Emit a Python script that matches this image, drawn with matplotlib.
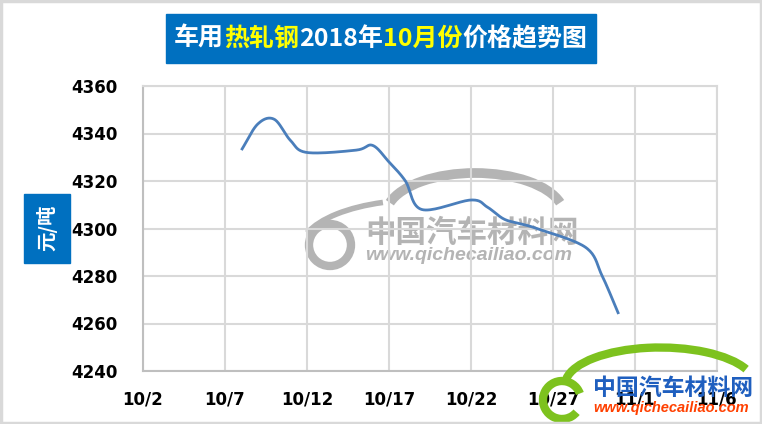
"""
车用热轧钢 2018年10月 价格趋势图 (recreated)
"""

import numpy as np
import matplotlib
matplotlib.use("Agg")
import matplotlib.pyplot as plt
from matplotlib.patches import Rectangle, Arc, Circle

# data: trading days in Oct 2018 (day of month) and price in 元/吨
days = [8, 9, 10, 11, 12, 15, 16, 17, 18, 19, 22, 23, 24, 25, 26, 29, 30, 31]
prices = [4333, 4344, 4346, 4337, 4332, 4333, 4335, 4328, 4320, 4308,
          4312, 4309, 4304, 4302, 4300, 4292, 4280, 4264]

x_ticks = [2, 7, 12, 17, 22, 27, 32, 37]
x_labels = ['10/2', '10/7', '10/12', '10/17', '10/22', '10/27', '11/1', '11/6']
y_ticks = [4240, 4260, 4280, 4300, 4320, 4340, 4360]

title_parts = [("车用", "white"), ("热轧钢", "#FFFF00"), ("2018年", "white"),
               ("10月份", "#FFFF00"), ("价格趋势图", "white")]
y_title = "元/吨"

W, H = 762, 424
CJK = ['Noto Sans CJK SC', 'DejaVu Sans']


def smooth(x, y, n=20):
    """Catmull-Rom spline through the points, like Excel's smoothed line"""
    x = np.asarray(x, float)
    y = np.asarray(y, float)
    px = np.concatenate([[2 * x[0] - x[1]], x, [2 * x[-1] - x[-2]]])
    py = np.concatenate([[2 * y[0] - y[1]], y, [2 * y[-1] - y[-2]]])
    t = np.linspace(0, 1, n, endpoint=False)
    xs, ys = [], []
    for i in range(1, len(px) - 2):
        for p, out in ((px, xs), (py, ys)):
            p0, p1, p2, p3 = p[i - 1], p[i], p[i + 1], p[i + 2]
            out.extend(0.5 * (2 * p1 + (-p0 + p2) * t
                              + (2 * p0 - 5 * p1 + 4 * p2 - p3) * t ** 2
                              + (-p0 + 3 * p1 - 3 * p2 + p3) * t ** 3))
    xs.append(x[-1])
    ys.append(y[-1])
    return np.array(xs), np.array(ys)


def arc(cx, cy, w, h, t1, t2, **kw):
    # matplotlib takes polar angles for ellipse arcs, convert from parametric
    def polar(t):
        t = np.deg2rad(t)
        return np.rad2deg(np.arctan2(h * np.sin(t), w * np.cos(t))) % 360
    return Arc((cx, cy), w, h, theta1=polar(t1), theta2=polar(t2), **kw)


fig = plt.figure(figsize=(W / 100, H / 100), dpi=100)
fig.patch.set_facecolor('white')

# background layer (watermark), in pixel coords
bg = fig.add_axes([0, 0, 1, 1], zorder=0)
bg.set_xlim(0, W)
bg.set_ylim(H, 0)
bg.axis('off')

gray = '#b4b4b4'
bg.add_patch(arc(475, 215, 178, 84, 197, 343, color=gray, lw=7))
bg.add_patch(arc(420, 250, 240, 100, 200, 252, color=gray, lw=4))
bg.add_patch(Circle((330, 245), 21, fill=False, ec=gray, lw=6))
bg.text(365, 233, "中国汽车材料网", color=gray, fontsize=22, fontweight='bold',
        family=CJK, va='center', ha='left')
bg.text(365, 256, "www.qichecailiao.com", color=gray, fontsize=14,
        fontweight='bold', style='italic', family='Liberation Sans',
        va='center', ha='left')

# main chart
ax = fig.add_axes([143 / W, (H - 371) / H, (717 - 143) / W, (371 - 86) / H], zorder=1)
ax.set_facecolor('none')

sx, sy = smooth(days, prices)
ax.plot(sx, sy, color='#4A7EBB', linewidth=2, solid_capstyle='butt')

ax.set_xlim(x_ticks[0], x_ticks[-1])
ax.set_ylim(y_ticks[0], y_ticks[-1])
ax.set_xticks(x_ticks)
ax.set_xticklabels(x_labels)
ax.set_yticks(y_ticks)
ax.grid(True, color='#d9d9d9', linewidth=1.5)
ax.set_axisbelow(True)
for side in ['top', 'right']:
    ax.spines[side].set_color('#d9d9d9')
    ax.spines[side].set_linewidth(1.5)
for side in ['left', 'bottom']:
    ax.spines[side].set_color('#bfbfbf')
    ax.spines[side].set_linewidth(1.5)
ax.tick_params(axis='both', length=0, labelsize=12)
ax.tick_params(axis='y', pad=18)
ax.tick_params(axis='x', pad=14)
for lab in ax.get_xticklabels() + ax.get_yticklabels():
    lab.set_fontweight('bold')

# foreground layer: title box, y label box, logo, frame
fg = fig.add_axes([0, 0, 1, 1], zorder=2)
fg.set_xlim(0, W)
fg.set_ylim(H, 0)
fg.axis('off')
fg.patch.set_alpha(0)

fg.add_patch(Rectangle((166, 14), 430, 49, color='#0070C0'))
txt = fg.text(174, 39, title_parts[0][0], color=title_parts[0][1], fontsize=18,
              fontweight='bold', family=CJK, va='center', ha='left')
for s, c in title_parts[1:]:
    txt = fg.annotate(s, xy=(1, 0), xycoords=txt, va='bottom', ha='left',
                      color=c, fontsize=18, fontweight='bold', family=CJK)

fg.add_patch(Rectangle((24, 194), 46, 69, color='#0070C0'))
fg.text(47, 228, y_title, color='white', fontsize=14, fontweight='bold',
        family=CJK, rotation=90, va='center', ha='center')

# site logo bottom right
green = '#7DC21E'
fg.add_patch(arc(660, 385, 190, 75, 190, 335, color=green, lw=6))
fg.add_patch(Arc((562, 400), 38, 38, theta1=40, theta2=340, color=green, lw=6))
fg.text(593, 388, "中国汽车材料网", color='#1F5FBF', fontsize=16.5, fontweight='bold',
        family=CJK, va='center', ha='left')
fg.text(593, 408, "www.qichecailiao.com", color='#FF4000', fontsize=10.5,
        fontweight='bold', style='italic', family='Liberation Sans',
        va='center', ha='left')

fg.add_patch(Rectangle((1, 1), W - 2, H - 2, fill=False, ec='#d9d9d9', lw=2.5))

fig.savefig('out.png', dpi=100)
